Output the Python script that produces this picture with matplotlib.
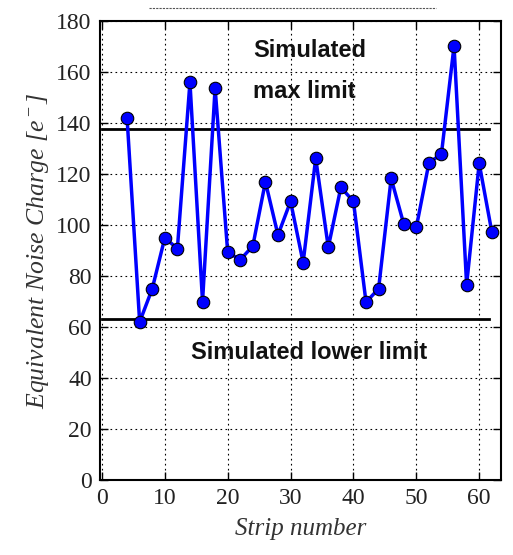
import matplotlib
matplotlib.use("Agg")
import matplotlib.pyplot as plt
from matplotlib.lines import Line2D

plt.rcParams['mathtext.fontset'] = 'custom'
plt.rcParams['mathtext.it'] = 'Liberation Serif:italic'
plt.rcParams['mathtext.rm'] = 'Liberation Serif'

strips = [4, 6, 8, 10, 12, 14, 16, 18, 20, 22, 24, 26, 28, 30, 32,
          34, 36, 38, 40, 42, 44, 46, 48, 50, 52, 54, 56, 58, 60, 62]
enc = [142, 62, 75, 95, 90.8, 156, 70, 153.8, 89.4, 86.4, 91.8, 117, 96.1, 109.3, 85.3,
       126.2, 91.3, 114.8, 109.3, 69.8, 75, 118.3, 100.4, 99.1, 124.3, 128, 170.3, 76.6, 124.2, 97.4]
max_limit = 137.6
lower_limit = 63.1
xticks = [0, 10, 20, 30, 40, 50, 60]
yticks = [0, 20, 40, 60, 80, 100, 120, 140, 160, 180]

fig = plt.figure(figsize=(5.13, 5.55), dpi=100)
ax = fig.add_axes([0.195, 0.135, 0.782, 0.827])

ax.plot(strips, enc, color='#0000ff', lw=2.5, marker='o', markersize=9,
        markerfacecolor='#0000ff', markeredgecolor='black', markeredgewidth=0.8, zorder=3)
ax.axhline(max_limit, xmin=0.005, xmax=0.97, color='black', lw=2, zorder=2)
ax.axhline(lower_limit, xmin=0.005, xmax=0.97, color='black', lw=2, zorder=2)

tf = dict(fontsize=17, fontweight='bold', family='Liberation Sans', va='center', color='#111111')
ax.text(24, 168.5, 'Simulated', ha='left', **tf)
ax.text(24, 152.5, 'max limit', ha='left', **tf)
ax.text(33, 50, 'Simulated lower limit', ha='center', **tf)

ax.set_xlim(-0.3, 63.5)
ax.set_ylim(0, 180)
ax.set_xticks(xticks)
ax.set_yticks(yticks)
ax.grid(True, color='black', linestyle=(0, (1.5, 3)), lw=0.8)
ax.tick_params(direction='in', top=True, right=True, length=6, width=1, labelsize=17)
ax.tick_params(axis='y', pad=6)
ax.tick_params(axis='x', pad=6)
for lab in ax.get_xticklabels() + ax.get_yticklabels():
    lab.set_family('Liberation Serif')
    lab.set_color('#222222')
for s in ax.spines.values():
    s.set_linewidth(1.5)

ax.set_xlabel('Strip number', fontsize=18, family='Liberation Serif', style='italic', color='#333333', labelpad=6)
ax.set_ylabel(r'Equivalent Noise Charge [$e^-$]', fontsize=18.5, family='Liberation Serif', style='italic', color='#333333', labelpad=4)

fig.add_artist(Line2D([0.29, 0.85], [0.985, 0.985], transform=fig.transFigure,
                      color='#555555', lw=0.8, linestyle=(0, (2, 1))))

fig.savefig('out.png', dpi=100, facecolor='white')
